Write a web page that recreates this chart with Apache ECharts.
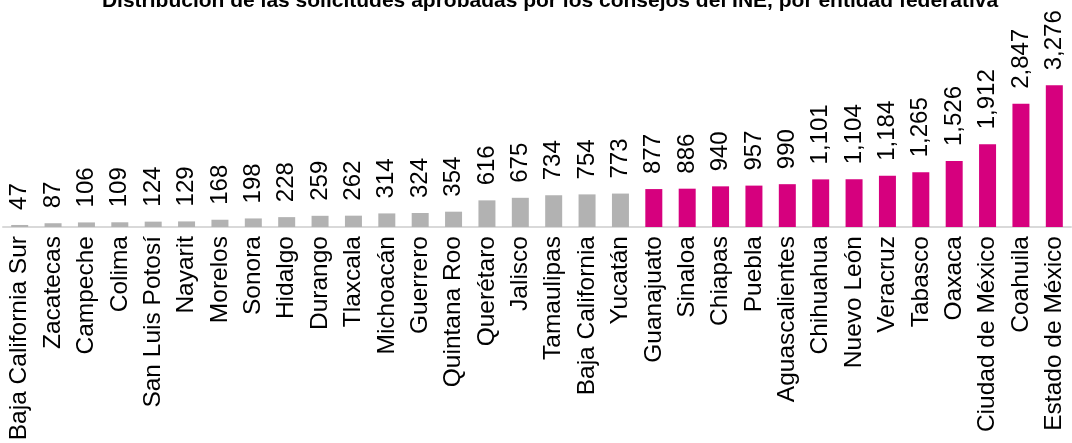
<!DOCTYPE html>
<html>
<head>
<meta charset="utf-8">
<script src="https://cdn.jsdelivr.net/npm/echarts@6/dist/echarts.min.js"></script>
<style>
  html, body { margin: 0; padding: 0; background: #fff; }
  #main { width: 1072px; height: 443px; }
</style>
</head>
<body>
<div id="main"></div>
<script>
var estados = ['Baja California Sur', 'Zacatecas', 'Campeche', 'Colima', 'San Luis Potosí',
  'Nayarit', 'Morelos', 'Sonora', 'Hidalgo', 'Durango', 'Tlaxcala', 'Michoacán', 'Guerrero',
  'Quintana Roo', 'Querétaro', 'Jalisco', 'Tamaulipas', 'Baja California', 'Yucatán',
  'Guanajuato', 'Sinaloa', 'Chiapas', 'Puebla', 'Aguascalientes', 'Chihuahua', 'Nuevo León',
  'Veracruz', 'Tabasco', 'Oaxaca', 'Ciudad de México', 'Coahuila', 'Estado de México'];
var solicitudes = [47, 87, 106, 109, 124, 129, 168, 198, 228, 259, 262, 314, 324, 354, 616,
  675, 734, 754, 773, 877, 886, 940, 957, 990, 1101, 1104, 1184, 1265, 1526, 1912, 2847, 3276];
// a partir de Guanajuato se resaltan
var primerResaltado = 'Guanajuato';

var fuente = 'Liberation Sans, Arial, sans-serif';
var idxResaltado = estados.indexOf(primerResaltado);

var myChart = echarts.init(document.getElementById('main'));
myChart.setOption({
  animation: false,
  title: {
    text: 'Distribución de las solicitudes aprobadas por los consejos del INE, por entidad federativa',
    left: 545,
    textAlign: 'center',
    top: -14,
    textStyle: { fontFamily: fuente, fontSize: 21, fontWeight: 'bold', color: '#000' }
  },
  grid: { left: 3, right: 1, top: 54, bottom: 216, containLabel: false, outerBoundsMode: 'none' },
  xAxis: {
    type: 'category',
    data: estados,
    axisLine: { lineStyle: { color: '#D9D9D9', width: 2 } },
    axisTick: { show: false },
    axisLabel: {
      rotate: 90, interval: 0, margin: 9,
      fontFamily: fuente, fontSize: 24.5, color: '#000'
    }
  },
  yAxis: { type: 'value', min: 0, max: 4000, show: false, splitLine: { show: false } },
  series: [{
    type: 'bar',
    data: solicitudes,
    barWidth: 17,
    itemStyle: {
      color: function (p) { return p.dataIndex >= idxResaltado ? '#D6007E' : '#B2B2B2'; }
    },
    label: {
      show: true, position: 'top', rotate: 90, align: 'left', verticalAlign: 'middle',
      distance: 15, fontFamily: fuente, fontSize: 24, color: '#000',
      formatter: function (p) { return p.value.toLocaleString('en-US'); }
    }
  }]
});
</script>
</body>
</html>
